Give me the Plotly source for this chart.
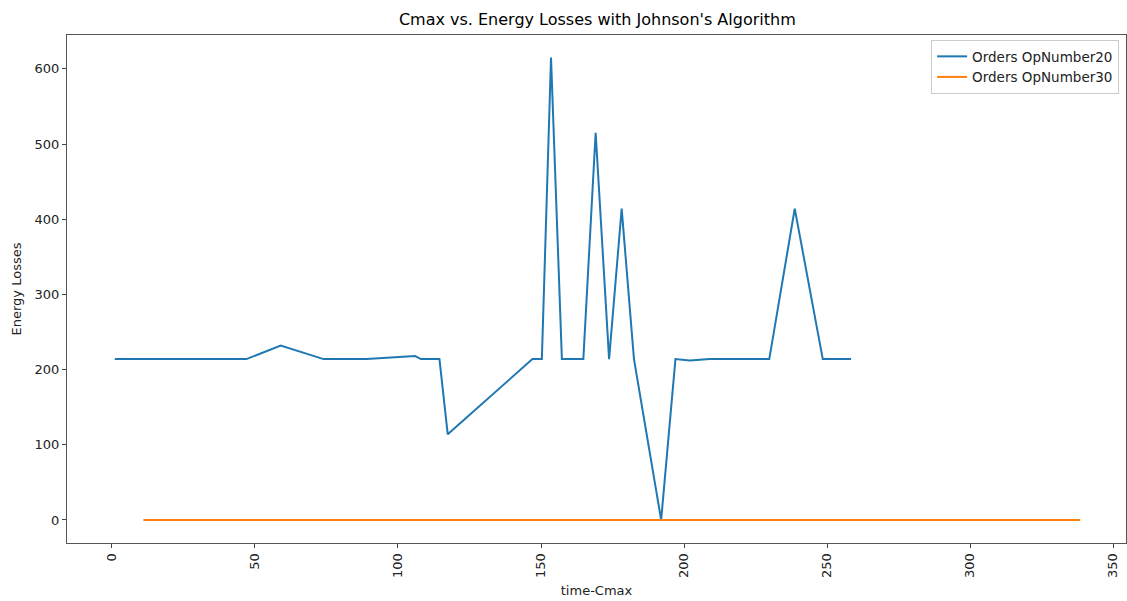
import plotly.graph_objects as go

# Data
cmax_20 = [1, 47, 59, 74, 89, 106, 108, 114.5, 117.4, 147, 150.3, 153.5, 157.3, 164.8, 169.1,
           173.8, 178.2, 182.5, 192, 197, 202, 209, 229.8, 238.7, 248.5, 258.4]
energy_20 = [214, 214, 232, 214, 214, 218, 214, 214, 114, 214, 214, 615, 214, 214, 515,
             214, 414, 214, 0, 214, 212, 214, 214, 414, 214, 214]

cmax_30 = [11, 50, 100, 150, 200, 250, 300, 338.5]
energy_30 = [0, 0, 0, 0, 0, 0, 0, 0]

x_ticks = [0, 50, 100, 150, 200, 250, 300, 350]
y_ticks = [0, 100, 200, 300, 400, 500, 600]

fig = go.Figure()
fig.add_trace(go.Scatter(x=cmax_20, y=energy_20, mode="lines", name="Orders OpNumber20",
                         line=dict(color="#1f77b4", width=2)))
fig.add_trace(go.Scatter(x=cmax_30, y=energy_30, mode="lines", name="Orders OpNumber30",
                         line=dict(color="#ff7f0e", width=2)))

font = "DejaVu Sans"
fig.update_layout(
    width=1127, height=601,
    margin=dict(l=67, r=1, t=35, b=58),
    paper_bgcolor="white", plot_bgcolor="white",
    font=dict(family=font, size=13, color="#222"),
    title=dict(text="Cmax vs. Energy Losses with Johnson's Algorithm", x=0.53, xanchor="center",
               y=0.967, yanchor="middle", font=dict(size=16, color="black")),
    xaxis=dict(range=[-15.7, 354.5], tickvals=x_ticks, ticktext=[str(v) for v in x_ticks],
               tickangle=-90, ticks="outside", ticklen=4, tickcolor="#444", automargin=False,
               showgrid=False, zeroline=False, showline=True, linecolor="#555", linewidth=1,
               mirror=True, title=dict(text="time-Cmax", standoff=8, font=dict(size=13))),
    yaxis=dict(range=[-30.6, 645], tickvals=y_ticks, ticktext=[str(v) for v in y_ticks],
               ticks="outside", ticklen=4, tickcolor="#444", automargin=False,
               showgrid=False, zeroline=False, showline=True, linecolor="#555", linewidth=1,
               mirror=True, title=dict(text="Energy Losses", standoff=10, font=dict(size=13))),
    legend=dict(x=0.9935, y=0.99, xanchor="right", yanchor="top", bgcolor="white",
                bordercolor="#ccc", borderwidth=1, font=dict(size=13.5), tracegroupgap=2),
)

fig.write_html("out.html", config={"displayModeBar": False},
               post_script="document.body.style.margin='0';document.body.style.overflow='hidden';")
